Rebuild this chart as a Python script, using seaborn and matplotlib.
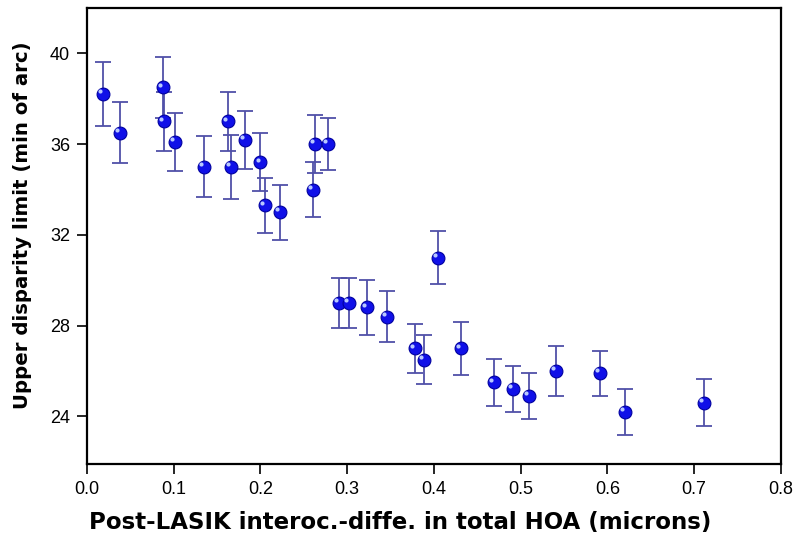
import matplotlib
matplotlib.use("agg")
from matplotlib import pyplot as plt
from matplotlib import transforms
import seaborn as sns
import pandas as pd

# values
hoa_diff = [0.019, 0.038, 0.088, 0.089, 0.102, 0.135, 0.163, 0.166, 0.182, 0.200,
            0.205, 0.223, 0.261, 0.263, 0.278, 0.291, 0.302, 0.323, 0.346, 0.378,
            0.389, 0.405, 0.431, 0.469, 0.491, 0.510, 0.541, 0.591, 0.620, 0.711]
disparity = [38.2, 36.5, 38.5, 37.0, 36.1, 35.0, 37.0, 35.0, 36.2, 35.2,
             33.3, 33.0, 34.0, 36.0, 36.0, 29.0, 29.0, 28.8, 28.4, 27.0,
             26.5, 31.0, 27.0, 25.5, 25.2, 24.9, 26.0, 25.9, 24.2, 24.6]
err = [1.4, 1.35, 1.35, 1.3, 1.28, 1.35, 1.3, 1.4, 1.28, 1.27,
       1.21, 1.21, 1.21, 1.27, 1.14, 1.11, 1.11, 1.23, 1.11, 1.09,
       1.07, 1.18, 1.18, 1.03, 1.02, 1.02, 1.11, 0.99, 1.02, 1.03]

df = pd.DataFrame({"x": hoa_diff, "y": disparity, "err": err})

sns.set_style("ticks")
plt.rcParams["font.family"] = ["Liberation Sans", "DejaVu Sans"]
plt.rcParams["text.color"] = "black"
plt.rcParams["xtick.color"] = "black"
plt.rcParams["ytick.color"] = "black"
plt.rcParams["axes.labelcolor"] = "black"

fig = plt.figure(figsize=(7.96, 5.37), dpi=100)
ax = fig.add_axes([0.109, 0.136, 0.872, 0.849])

ax.errorbar(df["x"], df["y"], yerr=df["err"], fmt="none", ecolor="#5050a8",
            elinewidth=1.3, capsize=5.5, capthick=1.3, zorder=2)
sns.scatterplot(data=df, x="x", y="y", ax=ax, s=85, color="#1010e8",
                edgecolor="#0000a0", linewidth=0.8, zorder=3, legend=False)
# little shine on each ball
shift = transforms.ScaledTranslation(-2 / 72, 2 / 72, fig.dpi_scale_trans)
ax.scatter(df["x"], df["y"], s=9, color="#b8c8ff", linewidth=0,
           transform=ax.transData + shift, zorder=4)

ax.set_xlim(0, 0.8)
ax.set_ylim(21.9, 42.0)
ax.set_xticks([0.0, 0.1, 0.2, 0.3, 0.4, 0.5, 0.6, 0.7, 0.8])
ax.set_yticks([24, 28, 32, 36, 40])
ax.tick_params(axis="both", direction="out", length=7, width=1.2,
               labelsize=13, pad=5)

for side in ["top", "right", "bottom", "left"]:
    ax.spines[side].set_visible(True)
    ax.spines[side].set_linewidth(1.6)
    ax.spines[side].set_color("black")

ax.set_xlabel("Post-LASIK interoc.-diffe. in total HOA (microns)",
              fontsize=16.5, fontweight="heavy", family="DejaVu Sans")
ax.set_ylabel("Upper disparity limit (min of arc)",
              fontsize=14.2, fontweight="heavy", family="DejaVu Sans")
ax.xaxis.set_label_coords(0.452, -0.103)
ax.yaxis.set_label_coords(-0.079, 0.524)

plt.savefig("out.png", dpi=100)
